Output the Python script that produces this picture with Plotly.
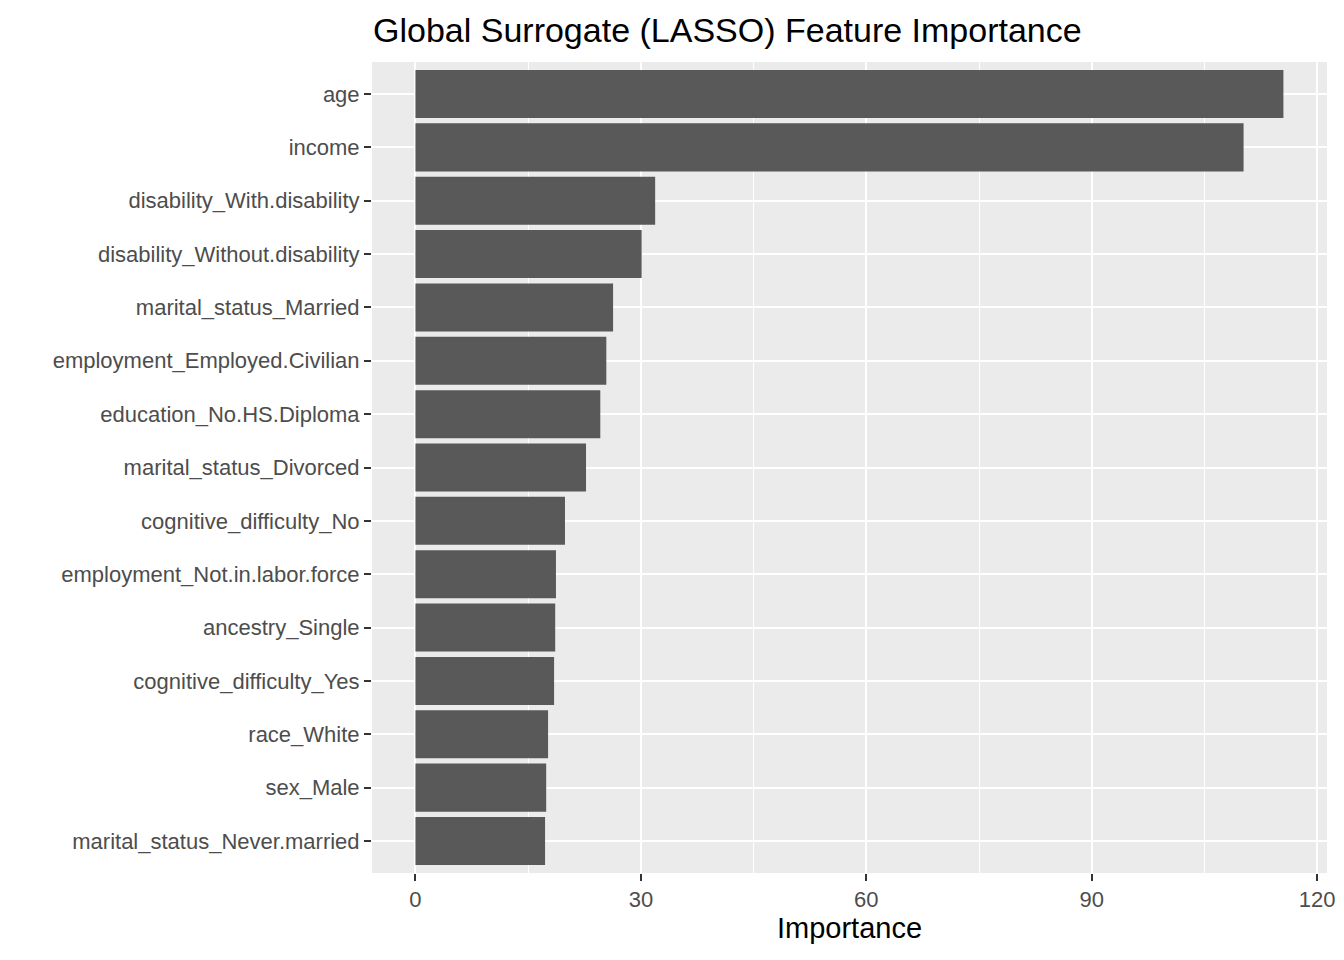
import plotly.graph_objects as go

features = [
    "age", "income", "disability_With.disability", "disability_Without.disability",
    "marital_status_Married", "employment_Employed.Civilian", "education_No.HS.Diploma",
    "marital_status_Divorced", "cognitive_difficulty_No", "employment_Not.in.labor.force",
    "ancestry_Single", "cognitive_difficulty_Yes", "race_White", "sex_Male",
    "marital_status_Never.married",
]
importance = [115.5, 110.2, 31.9, 30.1, 26.3, 25.4, 24.6, 22.7, 19.9, 18.7, 18.6, 18.45, 17.65, 17.4, 17.25]

x_ticks = [0, 30, 60, 90, 120]
x_minor = [15, 45, 75, 105]

# plot bottom-to-top (largest at top)
ys = list(range(len(features), 0, -1))

fig = go.Figure()
fig.add_trace(go.Bar(
    x=importance, y=ys, orientation="h", width=0.9,
    marker=dict(color="#595959", line=dict(width=0)),
))

W, H = 1336, 944
fig.update_layout(
    width=W, height=H,
    margin=dict(l=364, r=8.5, t=54, b=79.3),
    paper_bgcolor="white", plot_bgcolor="#EBEBEB",
    font=dict(family="Liberation Sans, Arial, sans-serif"),
    showlegend=False,
    title=dict(text="Global Surrogate (LASSO) Feature Importance",
               x=365/W, xanchor="left", y=1-22/H, yanchor="middle",
               font=dict(size=34, color="black")),
)
fig.update_xaxes(
    range=[-5.78, 121.3], tickvals=x_ticks, ticktext=[str(v) for v in x_ticks],
    showgrid=True, gridcolor="white", gridwidth=2, zeroline=False,
    ticks="outside", ticklen=7, tickwidth=2, tickcolor="#333333",
    tickfont=dict(size=22, color="#4D4D4D"),
    minor=dict(tickvals=x_minor, showgrid=True, gridcolor="white", gridwidth=1, ticks=""),
    title=dict(text="Importance", font=dict(size=29, color="black"), standoff=6),
    showline=False,
)
fig.update_yaxes(
    range=[0.4, len(features) + 0.6], tickvals=ys, ticktext=features,
    showgrid=True, gridcolor="white", gridwidth=2, zeroline=False,
    ticks="outside", ticklen=7, tickwidth=2, tickcolor="#333333",
    tickfont=dict(size=22, color="#4D4D4D"),
    showline=False,
)

fig.write_html("out.html")
